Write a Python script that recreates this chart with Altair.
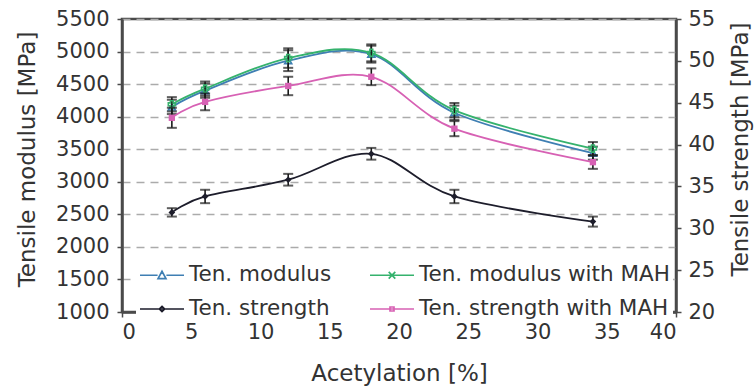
import altair as alt
import pandas as pd

# ---- data ----
acetylation = [3.6, 6, 12, 18, 24, 34]

modulus = [4150, 4400, 4860, 4960, 4060, 3440]
modulus_err = [110, 110, 160, 130, 110, 100]
modulus_mah = [4190, 4430, 4900, 4980, 4100, 3510]
modulus_mah_err = [110, 110, 150, 130, 110, 100]

strength = [31.9, 33.8, 35.8, 38.9, 33.8, 30.8]
strength_err = [0.5, 0.8, 0.7, 0.7, 0.8, 0.6]
strength_mah = [43.2, 45.1, 47.0, 48.1, 41.9, 37.9]
strength_mah_err = [1.2, 1.0, 1.1, 1.0, 0.9, 0.8]

series_names = ["Ten. modulus", "Ten. modulus with MAH", "Ten. strength", "Ten. strength with MAH"]
series_colors = ["#3f7fb3", "#35b26d", "#1d1d2b", "#d761b4"]

x_ticks = [0, 5, 10, 15, 20, 25, 30, 35, 40]
left_ticks = [1000, 1500, 2000, 2500, 3000, 3500, 4000, 4500, 5000, 5500]
right_ticks = [20, 25, 30, 35, 40, 45, 50, 55]

FONT = "DejaVu Sans"
AX = "#4a4a4a"
TXT = "#333333"

xscale = alt.Scale(domain=[0, 40], nice=False, zero=False)
lscale = alt.Scale(domain=[1000, 5500], nice=False, zero=False)
rscale = alt.Scale(domain=[20, 55], nice=False, zero=False)

common_axis = dict(
    labelFontSize=21, titleFontSize=23, labelFont=FONT, titleFont=FONT,
    labelColor=TXT, titleColor=TXT, domainColor=AX, domainWidth=2.5,
    tickColor=AX, tickSize=5, tickWidth=1.5, titleFontWeight="normal", format="d",
)
left_axis = alt.Axis(
    values=left_ticks, title="Tensile modulus [MPa]", orient="left",
    grid=True, gridDash=[8, 6], gridColor="#ababab", gridWidth=1.3,
    labelPadding=8, titlePadding=16, titleY=140, titleAngle=270, **common_axis,
)
right_axis = alt.Axis(
    values=right_ticks, title="Tensile strength [MPa]", orient="right", grid=False,
    labelPadding=7, titleX=64, titleY=130, titleAngle=270,
    titleBaseline="middle", titleAlign="center", **common_axis,
)
bottom_axis = alt.Axis(
    values=x_ticks, title="Acetylation [%]", orient="bottom", grid=False,
    labelPadding=4, titlePadding=20, **common_axis,
)

xenc_field = lambda: alt.X("x:Q", scale=xscale, axis=bottom_axis)


def series_layers(df, yscale, yaxis, color, shape, filled, size):
    base = alt.Chart(df)
    line = base.mark_line(interpolate="cardinal", color=color, strokeWidth=1.8).encode(
        x=xenc_field(), y=alt.Y("v:Q", scale=yscale, axis=yaxis))
    rule = base.mark_rule(color="#1a1a1a", strokeWidth=1.6).encode(
        x=xenc_field(), y=alt.Y("lo:Q", scale=yscale, axis=yaxis), y2="hi:Q")
    cap_lo = base.mark_tick(orient="horizontal", color="#1a1a1a", size=10, thickness=2).encode(
        x=xenc_field(), y=alt.Y("lo:Q", scale=yscale, axis=yaxis))
    cap_hi = base.mark_tick(orient="horizontal", color="#1a1a1a", size=10, thickness=2).encode(
        x=xenc_field(), y=alt.Y("hi:Q", scale=yscale, axis=yaxis))
    pt = base.mark_point(shape=shape, color=color, filled=filled, size=size,
                         strokeWidth=1.6, opacity=1).encode(
        x=xenc_field(), y=alt.Y("v:Q", scale=yscale, axis=yaxis))
    return [line, rule, cap_lo, cap_hi, pt]


def frame(vals, errs):
    return pd.DataFrame({
        "x": acetylation,
        "v": vals,
        "lo": [a - b for a, b in zip(vals, errs)],
        "hi": [a + b for a, b in zip(vals, errs)],
    })


left_layers = []
left_layers += series_layers(frame(modulus, modulus_err), lscale, left_axis,
                             series_colors[0], "triangle-up", False, 50)
left_layers += series_layers(frame(modulus_mah, modulus_mah_err), lscale, left_axis,
                             series_colors[1], "cross", False, 50)

# legend carrier (draws nothing, only provides the legend)
legend_paths = [
    "M-1,0H-0.2M0.2,0H1M-0.18,0.15L0,-0.18L0.18,0.15Z",
    "M-1,0H1M-0.15,-0.15L0.15,0.15M-0.15,0.15L0.15,-0.15",
    "M-1,0H1M0,-0.12L0.12,0L0,0.12L-0.12,0Z",
    "M-1,0H1M-0.09,-0.09H0.09V0.09H-0.09Z",
]
legend_layer = alt.Chart(pd.DataFrame({"series": series_names, "x": [-10] * 4, "v": [0] * 4})).mark_point(
    filled=False, strokeWidth=1.6, opacity=1
).encode(
    x=xenc_field(),
    y=alt.Y("v:Q", scale=lscale, axis=left_axis),
    color=alt.Color("series:N", scale=alt.Scale(domain=series_names, range=series_colors),
                    legend=alt.Legend(
                        title=None, orient="none", legendX=14, legendY=230, columns=2,
                        direction="horizontal", symbolOpacity=1,
                        symbolSize=1936, symbolStrokeWidth=1.7, labelFontSize=21.5, labelFont=FONT,
                        labelColor=TXT, labelOffset=4, columnPadding=34, rowPadding=-3,
                        fillColor="white", padding=3, labelLimit=400,
                    )),
    shape=alt.Shape("series:N", scale=alt.Scale(domain=series_names, range=legend_paths)),
).transform_filter("datum.x > 0")
left_layers.append(legend_layer)

right_layers = []
right_layers += series_layers(frame(strength, strength_err), rscale, right_axis,
                              series_colors[2], "diamond", True, 45)
right_layers += series_layers(frame(strength_mah, strength_mah_err), rscale, right_axis,
                              series_colors[3], "square", True, 40)

left = alt.layer(*left_layers)
right = alt.layer(*right_layers)

chart = alt.layer(left, right).resolve_scale(y="independent").properties(
    width=554, height=293,
    autosize=alt.AutoSizeParams(type="none"),
    padding={"left": 122, "top": 19, "right": 78, "bottom": 75},
    background="white",
).configure_view(stroke=AX, strokeWidth=2.5)

chart.save("out.html", embed_options={"renderer": "svg", "actions": False})
